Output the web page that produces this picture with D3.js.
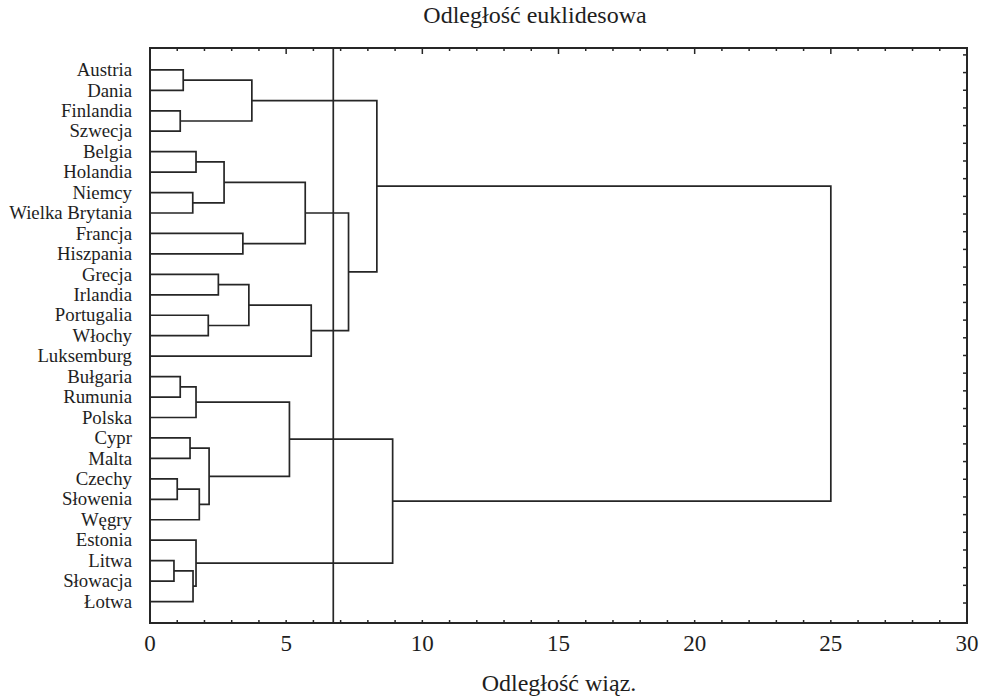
<!DOCTYPE html>
<html>
<head>
<meta charset="utf-8">
<script src="https://cdn.jsdelivr.net/npm/d3@7"></script>
<style>
  body { margin: 0; background: #fff; }
  text { font-family: "Liberation Serif", "DejaVu Serif", serif; fill: #1e1e1e; }
</style>
</head>
<body>
<script>
'use strict';

// leaves, top to bottom
const leaves = ['Austria', 'Dania', 'Finlandia', 'Szwecja', 'Belgia', 'Holandia', 'Niemcy',
  'Wielka Brytania', 'Francja', 'Hiszpania', 'Grecja', 'Irlandia', 'Portugalia', 'Włochy',
  'Luksemburg', 'Bułgaria', 'Rumunia', 'Polska', 'Cypr', 'Malta', 'Czechy', 'Słowenia',
  'Węgry', 'Estonia', 'Litwa', 'Słowacja', 'Łotwa'];

// linkage rows: node ids < 27 are leaves, cluster k gets id 27 + k
const linkA = [24, 20, 2, 15, 0, 18, 6, 27, 4, 30, 23, 28, 12, 32, 10, 35, 8, 41, 31, 36, 42, 44, 47, 45, 46, 50];
const linkB = [25, 21, 3, 16, 1, 19, 7, 26, 5, 17, 34, 22, 13, 38, 11, 33, 9, 39, 29, 40, 43, 14, 48, 49, 37, 51];
const linkHeight = [0.88, 1.00, 1.11, 1.11, 1.22, 1.47, 1.57, 1.58, 1.69, 1.69, 1.69, 1.81, 2.14, 2.17,
  2.51, 2.72, 3.41, 3.63, 3.74, 5.12, 5.70, 5.92, 7.29, 8.33, 8.91, 25.0];

const cutLevel = 6.73;
const xTicks = [0, 5, 10, 15, 20, 25, 30];

(function() {
  const svg = d3.select('body').append('svg')
    .attr('width', 983)
    .attr('height', 700);

  const pl = 150, pr = 967, pt = 48, pb = 623;
  const ink = '#262626';

  let x = d3.scaleLinear().domain([0, 30]).range([pl, pr]);
  let y = d3.scaleLinear().domain([-1.07, 27.05]).range([pt, pb]);

  // node positions
  let nodes = leaves.map((d, i) => ({ x: x(0), y: y(i) }));
  linkA.forEach((a, k) => {
    let na = nodes[a], nb = nodes[linkB[k]];
    nodes.push({ x: x(linkHeight[k]), y: (na.y + nb.y) / 2, a: na, b: nb });
  });

  let g = svg.append('g')
    .attr('fill', 'none')
    .attr('stroke', ink)
    .attr('stroke-width', 1.7);

  // dendrogram links: child horizontal to parent, then vertical
  g.selectAll('.link')
    .data(nodes.filter(d => d.a))
    .enter()
    .append('path')
      .attr('class', 'link')
      .attr('d', d => 'M' + d.a.x + ',' + d.a.y + 'H' + d.x + 'V' + d.b.y + 'H' + d.b.x);

  // cut line
  g.append('line')
    .attr('x1', x(cutLevel)).attr('x2', x(cutLevel))
    .attr('y1', pt).attr('y2', pb);

  // frame
  svg.append('rect')
    .attr('x', pl).attr('y', pt)
    .attr('width', pr - pl).attr('height', pb - pt)
    .attr('fill', 'none').attr('stroke', ink).attr('stroke-width', 2);

  let axisG = svg.append('g').attr('stroke', ink).attr('stroke-width', 1.5);
  let minor = d3.range(0, 31);
  // bottom ticks
  axisG.selectAll('.bt').data(minor).enter().append('line')
    .attr('x1', d => x(d)).attr('x2', d => x(d))
    .attr('y1', pb).attr('y2', pb - 3);
  // top ticks
  axisG.selectAll('.tt').data(minor).enter().append('line')
    .attr('x1', d => x(d)).attr('x2', d => x(d))
    .attr('y1', pt).attr('y2', d => pt + (d % 5 === 0 ? 6 : 3));
  // right ticks
  let yRight = d3.scaleLinear().domain([-1.13, 31.39]).range([pb, pt]);
  axisG.selectAll('.rt').data(d3.range(0, 32)).enter().append('line')
    .attr('x1', pr).attr('x2', pr - 4)
    .attr('y1', d => yRight(d)).attr('y2', d => yRight(d));

  // tick labels
  svg.selectAll('.xl').data(xTicks).enter().append('text')
    .attr('x', d => x(d))
    .attr('y', 651)
    .attr('text-anchor', 'middle')
    .style('font-size', '23px')
    .text(d => d);

  // leaf labels
  svg.selectAll('.leaf').data(leaves).enter().append('text')
    .attr('x', 132)
    .attr('y', (d, i) => y(i))
    .attr('dy', '0.33em')
    .attr('text-anchor', 'end')
    .style('font-size', '18.8px')
    .text(d => d);

  svg.append('text')
    .attr('x', 535).attr('y', 23)
    .attr('text-anchor', 'middle')
    .style('font-size', '24px')
    .text('Odległość euklidesowa');

  svg.append('text')
    .attr('x', 559).attr('y', 691)
    .attr('text-anchor', 'middle')
    .style('font-size', '24px')
    .text('Odległość wiąz.');
})();
</script>
</body>
</html>
